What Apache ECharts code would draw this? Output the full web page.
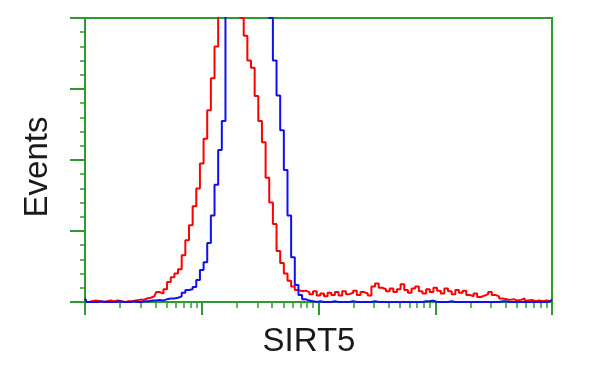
<!DOCTYPE html>
<html>
<head>
<meta charset="utf-8">
<style>html,body{margin:0;padding:0;background:#fff;}#c{width:600px;height:375px;}</style>
<script src="https://cdn.jsdelivr.net/npm/echarts@6/dist/echarts.min.js"></script>
</head>
<body>
<div id="c"></div>
<script>
// histogram bins: 32 channels per decade over 4 decades (log10 intensity 0..4)
var binsPerDecade = 32;
var decades = 4;
var redCounts = [
  0,0,1,2,1,0,1,2,1,2, 1,0,1,1,2,3,3,5,6,8,
  14,12,18,28,35,40,46,66,87,108, 135,160,195,230,270,315,360,405,440,470,
  480,470,440,400,375,340,330,290,255,225, 175,140,110,72,55,40,30,22,17,15,
  16,14,11,15,9,12,8,13,10,14, 9,15,11,13,16,10,14,12,9,22,
  26,20,18,15,19,14,18,25,17,13, 19,22,15,12,18,14,20,16,12,19,
  15,11,17,13,16,10,8,12,7,9, 11,14,10,8,5,4,3,4,2,3,
  5,2,3,1,2,1,2,1,3
];
var blueCounts = [
  5,0,0,0,1,0,0,0,0,1, 0,0,0,1,0,0,1,1,2,2,
  3,2,4,5,5,6,8,13,17,18, 21,31,45,56,83,122,165,214,255,430,
  480,500,520,510,500,490,480,470,460,440, 420,400,340,291,242,186,122,63,24,10,
  4,2,1,0,1,0,0,0,1,0, 0,0,0,1,0,0,0,0,0,1,
  0,0,0,0,0,0,0,0,0,0, 0,0,0,1,1,2,0,0,0,0,
  1,0,0,0,0,0,0,0,0,0, 0,0,0,0,1,1,0,0,0,0,
  0,0,0,0,0,0,0,1,3
];
var majorTicks = [0, 1, 2, 3, 4];
var minorMultipliers = [2, 3, 4, 5, 6, 7, 8, 9];
var xTitle = 'SIRT5';
var yTitle = 'Events';

var minorTicks = [];
for (var d = 0; d < decades; d++) {
  minorMultipliers.forEach(function (m) { minorTicks.push(d + Math.log10(m)); });
}
function toPairs(arr) {
  return arr.map(function (v, i) { return [i / binsPerDecade, v]; });
}
var green = '#2f9a2f';
var chart = echarts.init(document.getElementById('c'));
chart.setOption({
  animation: false,
  backgroundColor: '#ffffff',
  grid: { left: 85, right: 48, top: 18, bottom: 73, show: true, borderColor: green, borderWidth: 2, backgroundColor: 'transparent' },
  xAxis: [
    {
      type: 'value', min: 0, max: decades, position: 'bottom',
      name: xTitle, nameLocation: 'middle', nameGap: 23,
      nameTextStyle: { fontFamily: 'Liberation Sans, Arial, sans-serif', fontSize: 33, color: '#1a1a1a', padding: [0, 19, 0, 0] },
      axisLine: { show: true, lineStyle: { color: green, width: 2 } },
      axisTick: { show: true, inside: false, length: 13, customValues: majorTicks, lineStyle: { color: green, width: 2 } },
      axisLabel: { show: false },
      splitLine: { show: false }
    },
    {
      type: 'value', min: 0, max: decades, position: 'bottom',
      axisLine: { show: false },
      axisTick: { show: true, inside: false, length: 6, customValues: minorTicks, lineStyle: { color: green, width: 1.5 } },
      axisLabel: { show: false },
      splitLine: { show: false }
    }
  ],
  yAxis: {
    type: 'value', min: 0, max: 400, interval: 100,
    name: yTitle, nameLocation: 'middle', nameGap: 31, nameRotate: 90,
    nameTextStyle: { fontFamily: 'Liberation Sans, Arial, sans-serif', fontSize: 33, color: '#1a1a1a', padding: [0, 14, 0, 0] },
    axisLine: { show: true, lineStyle: { color: green, width: 2 } },
    axisTick: { show: true, inside: false, length: 15, lineStyle: { color: green, width: 2 } },
    minorTick: { show: true, splitNumber: 5, length: 5, lineStyle: { color: green, width: 1.5 } },
    axisLabel: { show: false },
    splitLine: { show: false },
    minorSplitLine: { show: false }
  },
  series: [
    {
      type: 'line', step: 'middle', data: toPairs(redCounts), showSymbol: false, clip: true,
      lineStyle: { color: '#ff0000', width: 2 }, itemStyle: { color: '#ff0000' }, z: 2
    },
    {
      type: 'line', step: 'middle', data: toPairs(blueCounts), showSymbol: false, clip: true,
      lineStyle: { color: '#1010ee', width: 2 }, itemStyle: { color: '#1010ee' }, z: 3
    }
  ]
});
</script>
</body>
</html>
